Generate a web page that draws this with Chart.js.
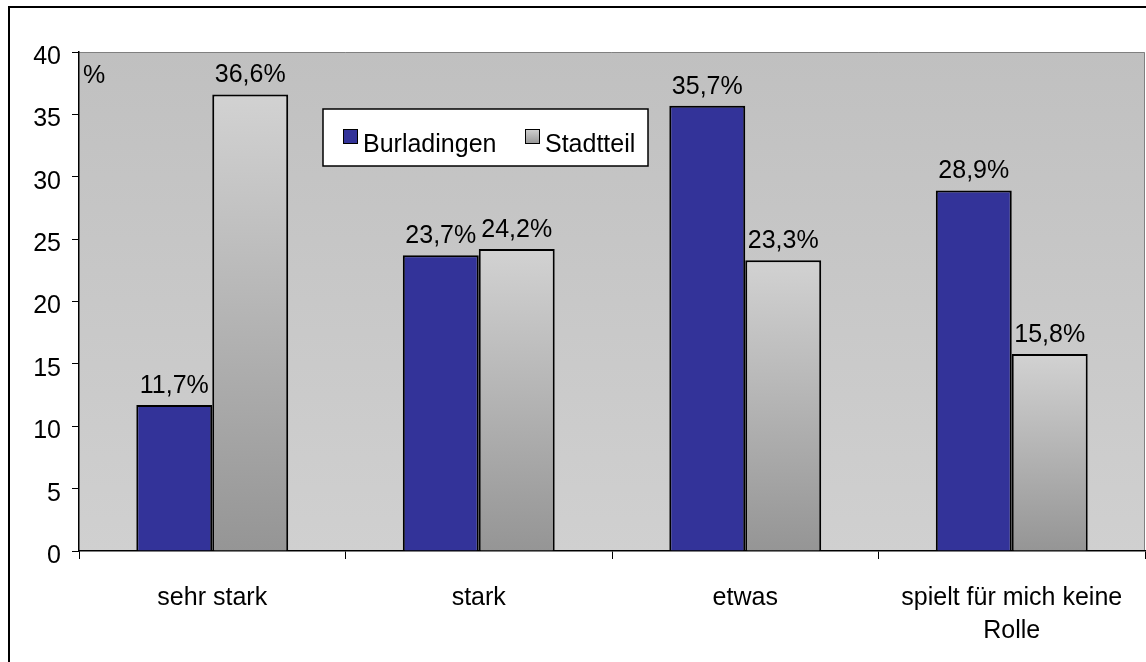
<!DOCTYPE html>
<html>
<head>
<meta charset="utf-8">
<script src="https://cdn.jsdelivr.net/npm/chart.js@4/dist/chart.umd.min.js"></script>
<style>
  html, body { margin: 0; padding: 0; background: #fff; }
  canvas { display: block; }
</style>
</head>
<body>
<canvas id="bars" width="1146" height="662"></canvas>
<script>
const categories = ['sehr stark', 'stark', 'etwas', ['spielt für mich keine', 'Rolle']];
const burladingen = [11.7, 23.7, 35.7, 28.9];
const stadtteil = [36.6, 24.2, 23.3, 15.8];
const yTicks = [0, 5, 10, 15, 20, 25, 30, 35, 40];

const FONT = 'Arial, "Liberation Sans", sans-serif';

function grayGradient(ctx, top, bottom) {
    const g = ctx.createLinearGradient(0, top, 0, bottom);
    g.addColorStop(0, '#d2d2d2');
    g.addColorStop(1, '#959595');
    return g;
}

// each Stadtteil bar gets its own top-to-bottom gradient
function stadtteilFill(c) {
    const chart = c.chart;
    const y = chart.scales.y;
    if (!chart.chartArea || !y || c.dataIndex === undefined) return '#bbbbbb';
    const top = y.getPixelForValue(stadtteil[c.dataIndex]);
    const base = y.getPixelForValue(0);
    return grayGradient(chart.ctx, top, base);
}

// frame, plot background, labels and legend
const excelLook = {
    id: 'excelLook',
    beforeDraw(chart) {
        const { ctx, chartArea: a } = chart;
        ctx.save();
        ctx.fillStyle = '#fff';
        ctx.fillRect(0, 0, chart.width, chart.height);
        ctx.strokeStyle = '#000';
        ctx.lineWidth = 2;
        ctx.strokeRect(9, 7, 1200, 700);
        const bg = ctx.createLinearGradient(0, a.top, 0, a.bottom);
        bg.addColorStop(0, '#c0c0c0');
        bg.addColorStop(1, '#d0d0d0');
        ctx.fillStyle = bg;
        ctx.fillRect(a.left, a.top, a.right - a.left, a.bottom - a.top);
        ctx.strokeStyle = '#808080';
        ctx.lineWidth = 1;
        ctx.beginPath();
        ctx.moveTo(a.left, a.top + 0.5);
        ctx.lineTo(a.right - 0.5, a.top + 0.5);
        ctx.lineTo(a.right - 0.5, a.bottom);
        ctx.stroke();
        ctx.restore();
    },
    afterDatasetsDraw(chart) {
        const { ctx, chartArea: a } = chart;
        ctx.save();
        ctx.fillStyle = '#000';
        ctx.font = '25px ' + FONT;
        ctx.textAlign = 'center';
        ctx.textBaseline = 'alphabetic';
        chart.data.datasets.forEach((ds, i) => {
            chart.getDatasetMeta(i).data.forEach((bar, j) => {
                const txt = ds.data[j].toFixed(1).replace('.', ',') + '%';
                ctx.fillText(txt, bar.x, bar.y - 12);
            });
        });
        ctx.textAlign = 'left';
        ctx.fillText('%', a.left + 4, a.top + 31);

        // legend
        const lx = 323, ly = 109, lw = 325, lh = 57;
        ctx.fillStyle = '#fff';
        ctx.fillRect(lx, ly, lw, lh);
        ctx.strokeStyle = '#000';
        ctx.lineWidth = 1.5;
        ctx.strokeRect(lx, ly, lw, lh);
        const items = [
            { x: 343, fill: chart.data.datasets[0].backgroundColor },
            { x: 525, fill: grayGradient(ctx, 129, 144) }
        ];
        items.forEach((it, i) => {
            ctx.fillStyle = it.fill;
            ctx.fillRect(it.x, 129, 14, 14);
            ctx.strokeStyle = '#000';
            ctx.lineWidth = 1;
            ctx.strokeRect(it.x + 0.5, 129.5, 14, 14);
            ctx.fillStyle = '#000';
            ctx.fillText(chart.data.datasets[i].label, it.x + 20, 152);
        });
        ctx.restore();
    }
};

new Chart(document.getElementById('bars'), {
    type: 'bar',
    data: {
        labels: categories,
        datasets: [
            {
                label: 'Burladingen',
                data: burladingen,
                backgroundColor: '#333399',
                borderColor: '#000',
                borderWidth: 2,
                categoryPercentage: 0.57,
                barPercentage: 1.0
            },
            {
                label: 'Stadtteil',
                data: stadtteil,
                backgroundColor: stadtteilFill,
                borderColor: '#000',
                borderWidth: 2,
                categoryPercentage: 0.57,
                barPercentage: 1.0
            }
        ]
    },
    options: {
        responsive: false,
        animation: false,
        layout: { padding: { top: 52, right: 1, left: 0, bottom: 0 } },
        plugins: {
            legend: { display: false },
            tooltip: { enabled: false }
        },
        scales: {
            x: {
                offset: true,
                grid: {
                    offset: true,
                    drawOnChartArea: false,
                    tickLength: 8,
                    color: '#000'
                },
                border: { color: '#000', width: 1.5 },
                ticks: {
                    color: '#000',
                    font: { size: 25, family: FONT, lineHeight: 1.3 },
                    padding: 23,
                    maxRotation: 0,
                    autoSkip: false
                },
                afterFit(scale) { scale.height = 662 - 551; }
            },
            y: {
                min: 0,
                max: 40,
                afterBuildTicks(scale) { scale.ticks = yTicks.map(v => ({ value: v })); },
                grid: {
                    drawOnChartArea: false,
                    tickLength: 7,
                    color: '#000'
                },
                border: { color: '#000', width: 1.5 },
                ticks: {
                    color: '#000',
                    font: { size: 25, family: FONT },
                    padding: 11,
                    labelOffset: 5
                },
                afterFit(scale) { scale.width = 79; }
            }
        }
    },
    plugins: [excelLook]
});
</script>
</body>
</html>
